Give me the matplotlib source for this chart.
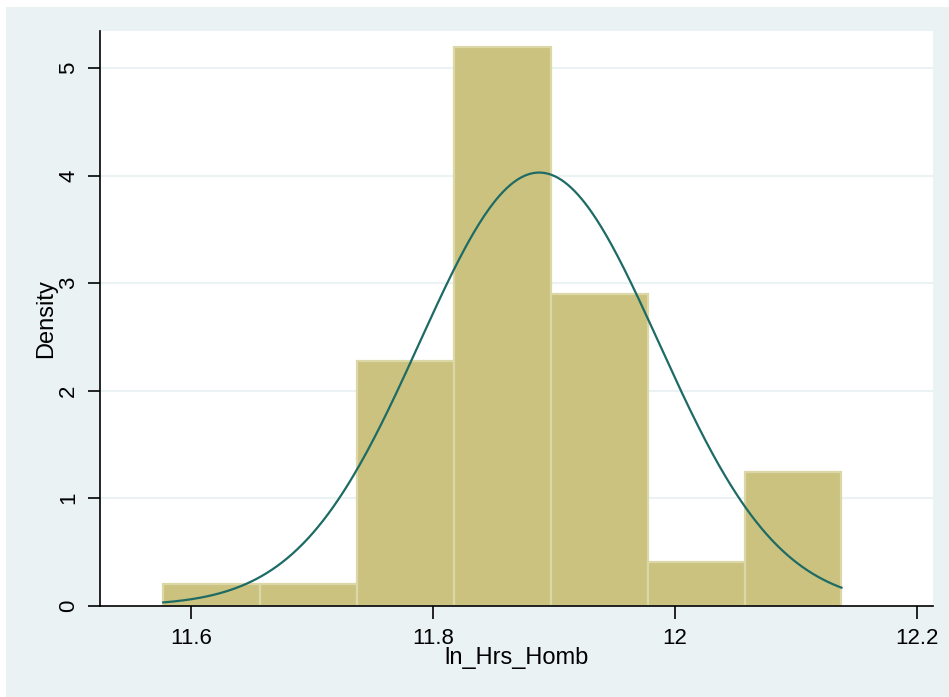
import numpy as np
import matplotlib
matplotlib.use("Agg")
import matplotlib.pyplot as plt
from matplotlib.patches import Rectangle

plt.rcParams['font.family'] = ['Liberation Sans', 'DejaVu Sans']

# Histogram of ln_Hrs_Homb (density scale) with a fitted normal curve
bin_start = 11.5771
bin_width = 0.0801
densities = [0.20, 0.20, 2.28, 5.20, 2.90, 0.41, 1.24]
norm_mean = 11.8879
norm_sd = 0.0990

x_ticks = [11.6, 11.8, 12.0, 12.2]
x_tick_labels = ["11.6", "11.8", "12", "12.2"]
y_ticks = [0, 1, 2, 3, 4, 5]
x_label = "ln_Hrs_Homb"
y_label = "Density"

bg = "#EAF2F3"
bar_face = "#CAC27E"
bar_edge = "#DCD7A6"
line_col = "#1E6B65"

fig = plt.figure(figsize=(9.49, 6.97), dpi=100)
fig.patch.set_facecolor("white")
fig.patches.append(Rectangle((6 / 949, 0), 1, 1 - 7 / 697, transform=fig.transFigure,
                             facecolor=bg, edgecolor="none", zorder=-10))

ax = fig.add_axes([100 / 949, 1 - 606 / 697, (933 - 100) / 949, (606 - 31) / 697])
ax.set_facecolor("white")

edges = bin_start + bin_width * np.arange(len(densities) + 1)
ax.bar(edges[:-1], densities, width=bin_width, align="edge",
       color=bar_face, edgecolor=bar_edge, linewidth=1.6, zorder=2)

xs = np.linspace(edges[0], edges[-1], 400)
ys = np.exp(-0.5 * ((xs - norm_mean) / norm_sd) ** 2) / (norm_sd * np.sqrt(2 * np.pi))
ax.plot(xs, ys, color=line_col, linewidth=1.6, zorder=3)

ax.set_xlim(11.5248, 12.2135)
ax.set_ylim(-0.004, 5.347)

ax.set_xticks(x_ticks)
ax.set_xticklabels(x_tick_labels)
ax.set_yticks(y_ticks)
ax.set_yticklabels([str(v) for v in y_ticks], rotation=90, va="center")

for v in y_ticks[1:]:
    ax.axhline(v, color=bg, linewidth=1.5, zorder=1)

for side in ("top", "right"):
    ax.spines[side].set_visible(False)
for side in ("left", "bottom"):
    ax.spines[side].set_color("black")
    ax.spines[side].set_linewidth(1.2)

ax.tick_params(axis="both", direction="out", length=9, width=1.2, color="black",
               labelsize=16, labelcolor="black")
ax.tick_params(axis="x", pad=7)
ax.tick_params(axis="y", pad=6)

ax.set_xlabel(x_label, fontsize=17, labelpad=-1.5)
ax.set_ylabel(y_label, fontsize=17, labelpad=1)

fig.savefig("out.png", dpi=100, facecolor=fig.get_facecolor())
